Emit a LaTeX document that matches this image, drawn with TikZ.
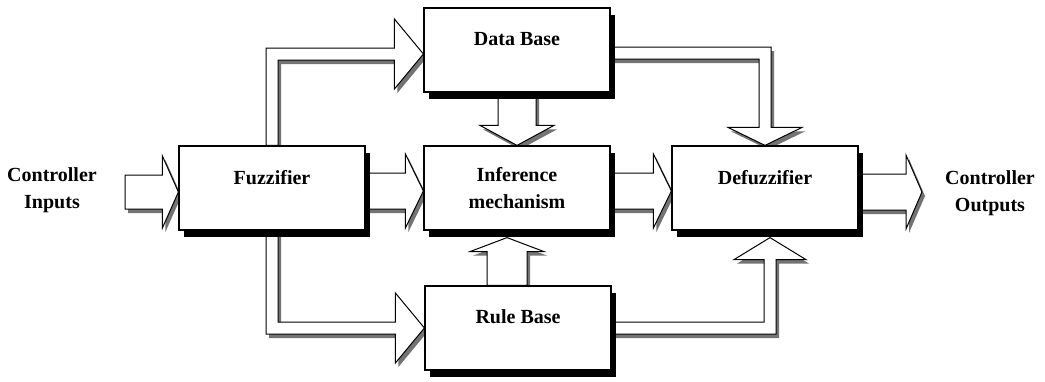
\documentclass[tikz,border=0pt]{standalone}
\usepackage{fontspec}
\setmainfont{Liberation Serif}
\usetikzlibrary{calc,shadows,backgrounds}

% straight block arrows: tail, tip, shaft half width, head half width, head length
\newcommand{\hblock}[5]{%
  \coordinate (hb) at ($(#2)!#5!(#1)$);
  \draw[fat] ($(#1)+(0,-#3)$) -- ($(hb)+(0,-#3)$) -- ($(hb)+(0,-#4)$) -- (#2)
    -- ($(hb)+(0,#4)$) -- ($(hb)+(0,#3)$) -- ($(#1)+(0,#3)$) -- cycle;}
\newcommand{\vblock}[5]{%
  \coordinate (vb) at ($(#2)!#5!(#1)$);
  \draw[fat] ($(#1)+(-#3,0)$) -- ($(vb)+(-#3,0)$) -- ($(vb)+(-#4,0)$) -- (#2)
    -- ($(vb)+(#4,0)$) -- ($(vb)+(#3,0)$) -- ($(#1)+(#3,0)$) -- cycle;}

\begin{document}
\begin{tikzpicture}[x=0.5pt, y=-0.5pt,
    block/.style={draw, fill=white, line width=0.6pt, minimum width=93pt, minimum height=42pt,
      font=\fontsize{10}{13.5}\selectfont\bfseries,
      drop shadow={shadow xshift=2.5pt, shadow yshift=-3.5pt, fill=black, opacity=1}},
    raised/.style={text depth=11pt},
    io/.style={align=center, font=\fontsize{10}{13.5}\selectfont\bfseries},
    fat/.style={draw, fill=white, line width=0.5pt, line join=miter,
      drop shadow={shadow xshift=1.5pt, shadow yshift=-2pt, fill=black!55, opacity=1}}]
    \useasboundingbox (0,0) rectangle (1045,381);

    \node[block, raised] (fuzz) at (272,188) {Fuzzifier};
    \node[block, raised] (datab) at (517,50) {Data Base};
    \node[block, align=center] (infer) at (517,188) {Inference\\mechanism};
    \node[block, raised] (defuzz) at (765,188) {Defuzzifier};
    \node[block, raised] (ruleb) at (518,328) {Rule Base};

    \node[io] (cin) at (52,190) {Controller\\Inputs};
    \node[io] (cout) at (990,193) {Controller\\Outputs};

    \begin{scope}[on background layer]
    % main line
    \coordinate (in0) at (125,192);
    \coordinate (in1) at (fuzz.west |- in0);
    \hblock{in0}{in1}{17}{36}{8pt}

    \coordinate (fi1) at ($(infer.west)+(0,3)$);
    \coordinate (fi0) at (fuzz.east |- fi1);
    \hblock{fi0}{fi1}{18}{37}{9pt}

    \coordinate (id1) at ($(defuzz.west)+(0,3)$);
    \coordinate (id0) at (infer.east |- id1);
    \hblock{id0}{id1}{18}{37}{9pt}

    \coordinate (out1) at (922,192);
    \coordinate (out0) at (defuzz.east |- out1);
    \hblock{out0}{out1}{18}{37}{8pt}

    % data base and rule base into the inference
    \vblock{datab.south}{infer.north}{19}{37}{10pt}
    \coordinate (ri1) at ($(infer.south)+(-10,7)$);
    \coordinate (ri0) at (ruleb.north -| ri1);
    \vblock{ri0}{ri1}{20}{37}{7pt}

    % fuzzifier up to the data base
    \coordinate (fd) at ($(datab.west)+(0,4)$);
    \draw[fat] ($(fuzz.north)+(-6,0)$) -- ($(fuzz.north |- fd)+(-6,-6)$) -- ($(fd)+(-29,-6)$)
      -- ($(fd)+(-29,-35)$) -- (fd) -- ($(fd)+(-29,35)$) -- ($(fd)+(-29,6)$)
      -- ($(fuzz.north |- fd)+(6,6)$) -- ($(fuzz.north)+(6,0)$) -- cycle;

    % fuzzifier down to the rule base
    \coordinate (fr) at (ruleb.west);
    \draw[fat] ($(fuzz.south)+(-6,0)$) -- ($(fuzz.south |- fr)+(-6,6)$) -- ($(fr)+(-29,6)$)
      -- ($(fr)+(-29,35)$) -- (fr) -- ($(fr)+(-29,-35)$) -- ($(fr)+(-29,-6)$)
      -- ($(fuzz.south |- fr)+(6,-6)$) -- ($(fuzz.south)+(6,0)$) -- cycle;

    % data base over to the defuzzifier
    \coordinate (dt) at ($(datab.east)+(0,3)$);
    \coordinate (dd) at (defuzz.north);
    \draw[fat] ($(dt)+(0,-6)$) -- ($(dd |- dt)+(6,-6)$) -- ($(dd)+(6,-18)$) -- ($(dd)+(37,-18)$)
      -- (dd) -- ($(dd)+(-37,-18)$) -- ($(dd)+(-6,-18)$) -- ($(dd |- dt)+(-6,6)$)
      -- ($(dt)+(0,6)$) -- cycle;

    % rule base over to the defuzzifier
    \coordinate (rt) at (ruleb.east);
    \coordinate (ud) at ($(defuzz.south)+(5,7)$);
    \draw[fat] ($(rt)+(0,6)$) -- ($(ud |- rt)+(6,6)$) -- ($(ud)+(6,22)$) -- ($(ud)+(36,22)$)
      -- (ud) -- ($(ud)+(-36,22)$) -- ($(ud)+(-6,22)$) -- ($(ud |- rt)+(-6,-6)$)
      -- ($(rt)+(0,-6)$) -- cycle;
    \end{scope}
\end{tikzpicture}
\end{document}
